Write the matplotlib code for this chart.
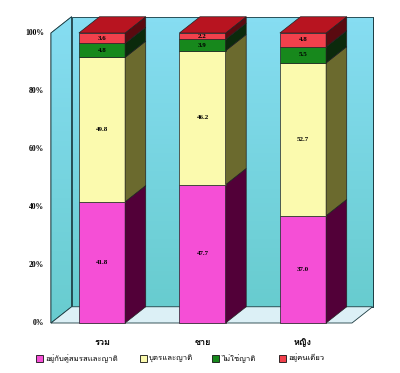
import matplotlib
matplotlib.use("Agg")
import matplotlib.pyplot as plt
import numpy as np
from matplotlib.patches import Polygon, Rectangle
from matplotlib.colors import LinearSegmentedColormap

# data (percent)
categories = ["รวม", "ชาย", "หญิง"]
series_names = ["อยู่กับคู่สมรสและญาติ", "บุตรและญาติ", "ไม่ใช่ญาติ", "อยู่คนเดียว"]
spouse = [41.8, 47.7, 37.0]
children = [49.8, 46.2, 52.7]
nonrel = [4.8, 3.9, 5.5]
alone = [3.6, 2.2, 4.8]
yticks = [0, 20, 40, 60, 80, 100]

front_cols = ["#f54fd6", "#fbfaae", "#17881c", "#f2404c"]
side_cols = ["#520038", "#6b6a2e", "#0b2a0c", "#5a0a10"]
top_col = "#b81420"

thai = ["Loma", "DejaVu Sans"]
num_font = "Liberation Serif"

fig = plt.figure(figsize=(4, 3.73), dpi=100)
ax = fig.add_axes([0, 0, 1, 1])
# pixel mapping: x = 102 + 100.5*i ; y = 323 - 2.9*v
ax.set_xlim((0 - 102) / 100.5, (400 - 102) / 100.5)
ax.set_ylim((323 - 373) / 2.9, (323 - 0) / 2.9)
ax.axis("off")

dx, dy = 0.205, 5.6
bw = 0.46
xl, xr = (51 - 102) / 100.5, (352 - 102) / 100.5
edge = dict(edgecolor="#1a3a40", linewidth=0.6)

wall_cmap = LinearSegmentedColormap.from_list("wall", ["#68cccf", "#86ddf2"])
grad = np.linspace(0, 1, 64).reshape(-1, 1)


def gradient_patch(poly, y0, y1):
    ax.add_patch(poly)
    im = ax.imshow(grad, cmap=wall_cmap, origin="lower", aspect="auto",
                   extent=(xl - 0.1, xr + dx + 0.1, y0, y1), zorder=poly.get_zorder())
    im.set_clip_path(poly)


# walls and floor
back = Polygon([(xl + dx, dy), (xr + dx, dy), (xr + dx, 100 + dy), (xl + dx, 100 + dy)],
               facecolor="none", **edge)
gradient_patch(back, dy, 100 + dy)
ax.add_patch(Polygon(back.get_xy(), facecolor="none", zorder=1.5, **edge))
left = Polygon([(xl, 0), (xl + dx, dy), (xl + dx, 100 + dy), (xl, 100)],
               facecolor="none", **edge)
gradient_patch(left, 0, 100 + dy)
ax.add_patch(Polygon(left.get_xy(), facecolor="none", zorder=1.5, **edge))
ax.add_patch(Polygon([(xl, 0), (xr, 0), (xr + dx, dy), (xl + dx, dy)],
                     facecolor="#dcf0f6", zorder=1.6, **edge))

for yt in yticks:
    ax.text(xl - 0.07, yt, "%d%%" % yt, ha="right", va="center",
            fontsize=5.5, fontweight="bold", family=num_font)

series = [spouse, children, nonrel, alone]
for i in range(len(categories)):
    x0 = i - bw / 2
    x1 = i + bw / 2
    base = 0
    for k, vals in enumerate(series):
        v = vals[i]
        ax.add_patch(Rectangle((x0, base), bw, v, facecolor=front_cols[k],
                               edgecolor="#222222", linewidth=0.5, zorder=3))
        ax.add_patch(Polygon([(x1, base), (x1 + dx, base + dy), (x1 + dx, base + v + dy), (x1, base + v)],
                             facecolor=side_cols[k], edgecolor="#222222", linewidth=0.5, zorder=3))
        ax.text(i, base + v / 2, "%.1f" % v, ha="center", va="center",
                fontsize=5, fontweight="bold", family=num_font, zorder=4)
        base += v
    ax.add_patch(Polygon([(x0, base), (x1, base), (x1 + dx, base + dy), (x0 + dx, base + dy)],
                         facecolor=top_col, edgecolor="#222222", linewidth=0.5, zorder=3))
    ax.text(i, -6.6, categories[i], ha="center", va="center", fontsize=6.5,
            fontweight="bold", family=thai)

# legend
leg_x = [36, 140, 212, 279]
for k, name in enumerate(series_names):
    lx = (leg_x[k] - 102) / 100.5
    ax.add_patch(Rectangle((lx, -13.4), 0.065, 2.4, facecolor=front_cols[k],
                           edgecolor="#111111", linewidth=0.6))
    ax.text(lx + 0.09, -12.2, name, ha="left", va="center", fontsize=5.6,
            family=thai)

fig.savefig("out.png", dpi=100)
